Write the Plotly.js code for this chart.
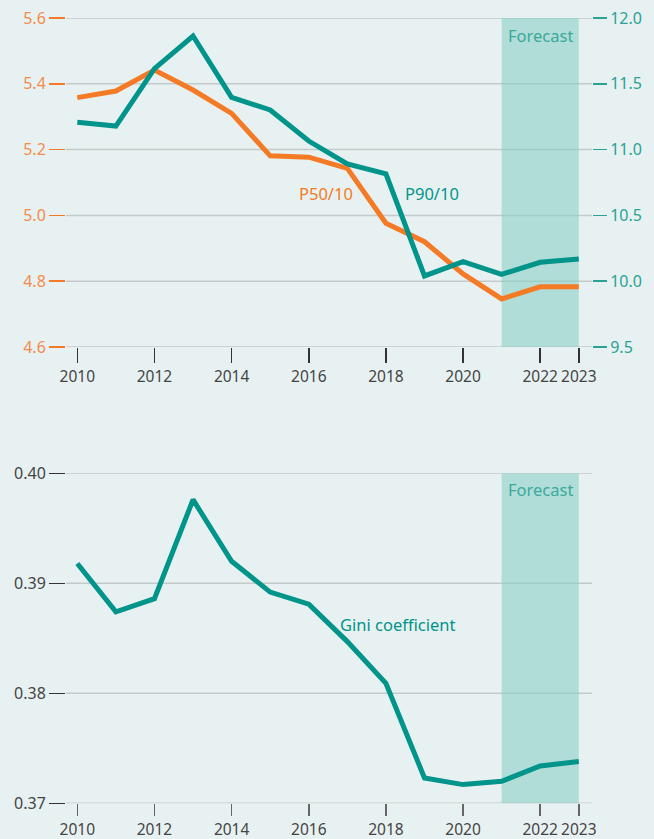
<!DOCTYPE html>
<html>
<head>
<meta charset="utf-8">
<script src="https://cdn.plot.ly/plotly-3.0.1.min.js"></script>
<style>html,body{margin:0;padding:0;background:#e8f1f1;}#chart{width:654px;height:839px;}</style>
</head>
<body>
<div id="chart"></div>
<script>
const years = [2010,2011,2012,2013,2014,2015,2016,2017,2018,2019,2020,2021,2022,2023];
const p50_10 = [5.358,5.378,5.442,5.381,5.310,5.181,5.177,5.143,4.976,4.920,4.822,4.746,4.783,4.783];
const p90_10 = [11.207,11.179,11.615,11.863,11.397,11.301,11.065,10.891,10.815,10.040,10.148,10.052,10.144,10.169];
const gini = [0.3918,0.3874,0.3886,0.3976,0.3920,0.3892,0.3881,0.3847,0.3809,0.3723,0.3717,0.3720,0.3734,0.3738];
const xTicks = [2010,2012,2014,2016,2018,2020,2022,2023];
const leftTicks = [4.6,4.8,5.0,5.2,5.4,5.6];
const rightTicks = [9.5,10.0,10.5,11.0,11.5,12.0];
const giniTicks = [0.37,0.38,0.39,0.40];
const forecastStart = 2021, forecastEnd = 2023;

const ORANGE = '#f47a25', TEAL = '#00948a', TEAL_TXT = '#2aa295', GRID = '#c4c9ca', DARK = '#444';
const SHADE = 'rgba(139,208,198,0.6)';
const FONT = 'Noto Sans, Open Sans, sans-serif';
const xr = [2009.707, 2023.342];
const yr1 = [4.6, 5.6], yr2 = [9.5, 12.0], yr3 = [0.37, 0.40];

const traces = [
  {x: years, y: p50_10, type: 'scatter', mode: 'lines', xaxis: 'x', yaxis: 'y',
   line: {color: ORANGE, width: 5}, hoverinfo: 'skip'},
  {x: years, y: p90_10, type: 'scatter', mode: 'lines', xaxis: 'x', yaxis: 'y2',
   line: {color: TEAL, width: 5}, hoverinfo: 'skip'},
  {x: years, y: gini, type: 'scatter', mode: 'lines', xaxis: 'x2', yaxis: 'y3',
   line: {color: TEAL, width: 5}, hoverinfo: 'skip'}
];

const xbase = {range: xr, tickvals: xTicks, ticktext: xTicks.map(String), ticks: 'outside', tickangle: 0,
  tickwidth: 1.5, showgrid: false, zeroline: false, showline: false,
  tickfont: {family: FONT, size: 15.5, color: DARK}, domain: [66/654, 592/654], fixedrange: true};

const shapes = [];
leftTicks.forEach(v => shapes.push({type: 'line', xref: 'x', yref: 'y', x0: xr[0], x1: xr[1], y0: v, y1: v,
  line: {color: GRID, width: 1.5}, layer: 'below'}));
giniTicks.forEach(v => shapes.push({type: 'line', xref: 'x2', yref: 'y3', x0: xr[0], x1: xr[1], y0: v, y1: v,
  line: {color: GRID, width: 1.5}, layer: 'below'}));
shapes.push(
  {type: 'rect', xref: 'x', yref: 'y', x0: forecastStart, x1: forecastEnd, y0: yr1[0], y1: yr1[1],
   fillcolor: SHADE, line: {width: 0}, layer: 'below'},
  {type: 'rect', xref: 'x2', yref: 'y3', x0: forecastStart, x1: forecastEnd, y0: yr3[0], y1: yr3[1],
   fillcolor: SHADE, line: {width: 0}, layer: 'below'});

const layout = {
  width: 654, height: 839,
  margin: {l: 0, r: 0, t: 0, b: 0},
  paper_bgcolor: '#e8f1f1', plot_bgcolor: '#e8f1f1',
  showlegend: false,
  font: {family: FONT},
  xaxis: Object.assign({}, xbase, {anchor: 'y', ticklen: 15, tickcolor: '#333'}),
  xaxis2: Object.assign({}, xbase, {anchor: 'y3', ticklen: 12, tickcolor: '#666'}),
  yaxis: {domain: [(839-347)/839, (839-18)/839], range: yr1, tickvals: leftTicks,
    ticktext: leftTicks.map(v => v.toFixed(1)),
    ticks: 'outside', ticklen: 16, tickwidth: 1.5, tickcolor: ORANGE,
    tickfont: {family: FONT, size: 16, color: '#f28c4c'},
    showgrid: false, zeroline: false, showline: false, anchor: 'x'},
  yaxis2: {overlaying: 'y', side: 'right', anchor: 'x', range: yr2,
    tickvals: rightTicks, ticktext: rightTicks.map(v => v.toFixed(1)),
    ticks: 'outside', ticklen: 14, tickwidth: 1.5, tickcolor: TEAL_TXT,
    tickfont: {family: FONT, size: 16, color: TEAL_TXT},
    showgrid: false, zeroline: false, showline: false},
  yaxis3: {domain: [(839-803.3)/839, (839-473.3)/839], range: yr3,
    tickvals: giniTicks, ticktext: giniTicks.map(v => v.toFixed(2)),
    ticks: 'outside', ticklen: 16, tickwidth: 1.5, tickcolor: '#333',
    tickfont: {family: FONT, size: 16, color: DARK},
    showgrid: false, zeroline: false, showline: false, anchor: 'x2'},
  shapes: shapes,
  annotations: [
    {x: 2022, y: 0.948, xref: 'x', yref: 'y domain', yanchor: 'middle', text: 'Forecast', showarrow: false,
     font: {family: FONT, size: 16.5, color: '#3aa99c'}},
    {x: 2022, y: 0.952, xref: 'x2', yref: 'y3 domain', yanchor: 'middle', text: 'Forecast', showarrow: false,
     font: {family: FONT, size: 16.5, color: '#3aa99c'}},
    {x: 2016.45, y: 5.068, xref: 'x', yref: 'y', text: 'P50/10', showarrow: false,
     font: {family: FONT, size: 16.5, color: ORANGE}},
    {x: 2019.2, y: 5.068, xref: 'x', yref: 'y', text: 'P90/10', showarrow: false,
     font: {family: FONT, size: 16.5, color: TEAL}},
    {x: 2018.32, y: 0.3863, xref: 'x2', yref: 'y3', text: 'Gini coefficient', showarrow: false,
     font: {family: FONT, size: 16.5, color: TEAL}}
  ]
};

Plotly.newPlot('chart', traces, layout, {displayModeBar: false, staticPlot: true});
</script>
</body>
</html>
